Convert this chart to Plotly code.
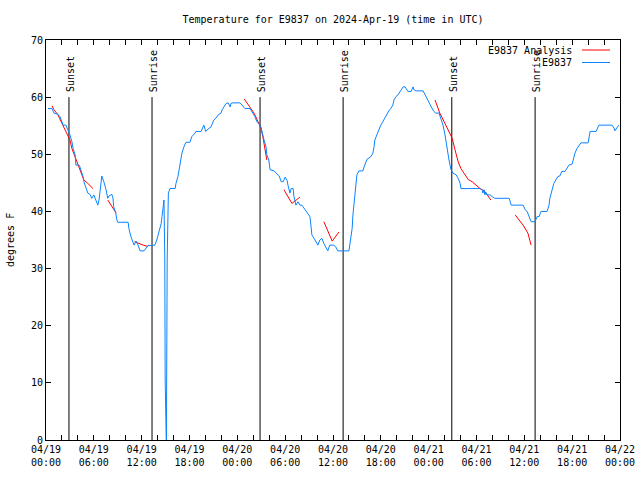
import pandas as pd
import plotly.graph_objects as go

START = "2024-04-19 00:00"
TITLE = "Temperature for E9837 on 2024-Apr-19 (time in UTC)"

# E9837 observed temperature (hours since start, degrees F)
obs_hours = [0.25, 0.75, 1.0, 1.5, 1.75, 2.0, 2.15, 2.5, 2.75, 3.0, 3.25, 3.4, 3.65, 3.75, 4.15, 4.25, 4.5, 4.65, 4.75,
             5.0, 5.25, 5.5, 5.75, 6.0, 6.25, 6.5, 6.65, 6.75, 6.9, 7.0, 7.25, 7.5, 7.75, 7.9, 8.25, 8.4, 8.5, 8.75,
             8.9, 9.0, 10.3, 10.4, 10.65, 10.9, 11.05, 11.3, 11.55, 11.8, 12.3, 12.8, 13.65, 13.9, 14.15, 14.45,
             14.55, 14.7, 14.8, 14.9, 14.95, 15.1, 15.2, 15.35, 15.55, 16.2, 16.3, 16.55, 16.7, 16.8, 17.05, 17.3,
             17.55, 18.05, 18.3, 18.7, 18.8, 19.45, 19.7, 19.8, 19.95, 20.05, 20.3, 20.7, 21.05, 21.3, 21.6, 21.95,
             22.1, 22.35, 22.6, 22.85, 23.1, 23.2, 23.45, 24.35, 24.6, 24.95, 25.6, 25.85, 26.2, 26.45, 26.7, 26.95,
             27.1, 27.35, 27.6, 27.7, 27.95, 28.1, 28.6, 28.85, 29.25, 29.5, 29.75, 30.0, 30.25, 30.35, 30.6, 30.75,
             31.0, 31.1, 31.35, 31.6, 31.85, 32.1, 32.35, 32.6, 32.85, 33.1, 33.25, 33.35, 33.75, 34.1, 34.35, 34.6,
             34.85, 35.1, 35.35, 35.6, 36.1, 36.35, 36.6, 38.0, 38.25, 38.4, 38.5, 38.65, 38.75, 39.0, 39.25, 39.75,
             39.9, 40.15, 40.25, 40.75, 41.0, 41.15, 41.25, 41.5, 41.75, 42.0, 42.25, 42.5, 42.75, 43.0, 43.3, 43.5,
             43.65, 43.9, 44.15, 44.4, 44.65, 44.8, 45.05, 45.3, 45.4, 45.8, 46.05, 46.15, 46.4, 47.3, 47.55, 47.8,
             48.05, 48.4, 48.65, 48.9, 49.3, 49.55, 49.8, 50.05, 50.2, 50.3, 50.45, 50.55, 50.8, 51.05, 51.45, 51.7,
             51.95, 52.05, 54.45, 54.7, 54.8, 54.95, 55.05, 55.2, 55.3, 55.7, 55.95, 56.3, 58.1, 58.35, 59.85, 60.1,
             60.35, 60.6, 60.85, 61.35, 61.6, 61.85, 62.1, 62.85, 63.1, 63.2, 63.45, 63.7, 63.95, 64.2, 64.45, 64.7,
             65.1, 65.35, 65.6, 66.0, 66.1, 66.35, 66.6, 66.85, 67.1, 68.0, 68.1, 68.25, 69.0, 69.35, 71.0, 71.25,
             71.35, 71.6, 71.85]
obs_values = [58.0, 58.0, 57.2, 57.0, 56.6, 55.6, 55.1, 55.1, 54.3, 53.4, 52.2, 51.0, 49.9, 48.1, 48.1, 47.8, 46.7, 46.1,
              45.2, 44.3, 43.2, 43.0, 42.3, 42.9, 42.0, 41.1, 42.0, 43.2, 45.1, 46.2, 45.2, 44.0, 42.3, 42.7, 43.0,
              42.3, 40.8, 39.7, 38.5, 38.1, 38.1, 37.0, 35.6, 34.7, 34.1, 34.8, 34.1, 33.1, 33.1, 34.0, 34.1, 35.0,
              36.2, 37.9, 39.1, 41.1, 42.0, 31.5, 10.5, -1.0, 31.5, 43.2, 44.0, 44.0, 44.9, 46.1, 47.3, 48.4, 50.2,
              51.3, 52.1, 52.1, 53.1, 53.7, 54.0, 54.0, 54.6, 55.1, 54.4, 54.0, 54.4, 54.8, 56.0, 56.3, 56.9, 57.2,
              57.8, 58.3, 58.9, 59.0, 58.3, 58.9, 59.0, 59.0, 58.6, 58.0, 58.0, 57.5, 56.6, 55.7, 55.4, 54.8, 53.7,
              52.5, 51.3, 49.9, 49.0, 47.3, 47.1, 46.8, 46.2, 45.2, 45.2, 46.0, 45.4, 44.6, 43.2, 44.0, 44.0, 42.6,
              41.1, 41.7, 41.1, 41.1, 40.6, 40.0, 39.4, 39.1, 37.3, 35.9, 35.0, 34.1, 35.0, 35.3, 34.4, 33.8, 33.1,
              34.1, 34.1, 33.8, 33.1, 33.1, 35.3, 37.0, 39.4, 41.7, 44.0, 46.4, 47.1, 47.1, 47.8, 48.7, 49.1, 49.6,
              50.2, 51.3, 52.5, 53.4, 54.3, 55.1, 55.7, 56.4, 57.0, 57.6, 58.1, 58.6, 59.5, 60.1, 60.4, 61.0, 61.4,
              61.8, 61.8, 61.3, 61.0, 61.0, 61.8, 61.3, 61.1, 61.1, 60.4, 59.5, 58.9, 58.1, 57.5, 57.2, 57.2, 56.3,
              55.1, 53.4, 51.9, 50.8, 49.3, 49.0, 47.3, 46.7, 46.4, 45.8, 44.9, 44.0, 44.0, 43.8, 43.2, 43.8, 42.9,
              43.3, 42.9, 42.9, 42.6, 42.3, 42.3, 41.1, 41.1, 40.3, 40.0, 39.1, 38.2, 38.2, 39.1, 39.1, 40.0, 40.0,
              41.1, 42.3, 43.8, 44.9, 45.5, 46.1, 46.2, 47.0, 47.0, 47.5, 48.1, 48.3, 49.0, 50.2, 51.0, 51.6, 52.0,
              52.0, 53.1, 54.0, 54.0, 55.1, 55.1, 54.6, 54.1, 54.6, 55.1]

# E9837 Analysis (None = gap between segments)
ana_hours = [0.75, 1.0, 1.5, 1.9, 2.25, 2.75, 3.0, 3.25, 3.65, 4.0, 4.25, 4.5, 4.75, 5.25, 5.9, None,
             7.75, 8.3, 8.8, None,
             11.1, 11.6, 12.2, 12.7, 12.85, None,
             24.85, 25.6, 26.1, 26.6, 26.95, 27.2, 27.45, 27.7, None,
             29.85, 30.85, 31.85, None,
             34.85, 35.9, 36.75, None,
             48.8, 49.4, 50.15, 50.95, 51.3, 51.7, 52.05, 52.55, 52.95, 53.45, 53.95, 54.45, 55.05, 55.8, None,
             58.85, 59.85, 60.45, 60.85]
ana_values = [58.5, 57.8, 56.9, 55.7, 54.6, 53.4, 52.5, 51.0, 49.6, 48.4, 47.3, 46.4, 45.5, 44.9, 44.0, None,
              42.0, 40.8, 39.7, None,
              34.7, 34.4, 34.1, 33.9, 34.1, None,
              59.7, 58.3, 57.2, 55.7, 54.6, 53.1, 51.0, 49.0, None,
              43.8, 41.4, 42.5, None,
              38.2, 34.8, 36.4, None,
              59.5, 57.2, 55.1, 52.8, 50.8, 48.7, 47.5, 46.4, 45.6, 45.2, 44.6, 44.0, 43.5, 42.0, None,
              39.4, 37.6, 36.2, 34.1]

# Sun events (hours since start)
sun_hours = [2.88, 13.3, 26.85, 37.27, 50.9, 61.35]
sun_labels = ["Sunset", "Sunrise", "Sunset", "Sunrise", "Sunset", "Sunrise"]
sun_line_top = 60

tick_hours = [0, 6, 12, 18, 24, 30, 36, 42, 48, 54, 60, 66, 72]
tick_labels = ["04/19<br>00:00", "04/19<br>06:00", "04/19<br>12:00", "04/19<br>18:00",
               "04/20<br>00:00", "04/20<br>06:00", "04/20<br>12:00", "04/20<br>18:00",
               "04/21<br>00:00", "04/21<br>06:00", "04/21<br>12:00", "04/21<br>18:00",
               "04/22<br>00:00"]

start = pd.Timestamp(START)


def to_time(hs):
    return [None if h is None else start + pd.Timedelta(hours=h) for h in hs]


FONT = "DejaVu Sans Mono"
BLUE = "#0a84ff"
fig = go.Figure()

sx, sy = [], []
for h in sun_hours:
    t = start + pd.Timedelta(hours=h)
    sx += [t, t, None]
    sy += [0, sun_line_top, None]
fig.add_trace(go.Scatter(x=sx, y=sy, mode="lines", line=dict(color="black", width=1),
                         showlegend=False, hoverinfo="skip"))

fig.add_trace(go.Scatter(x=to_time(ana_hours), y=ana_values, mode="lines", name="E9837 Analysis",
                         line=dict(color="#ff0000", width=1), connectgaps=False, showlegend=False))
fig.add_trace(go.Scatter(x=to_time(obs_hours), y=obs_values, mode="lines", name="E9837",
                         line=dict(color=BLUE, width=1), showlegend=False))

for h, lab in zip(sun_hours, sun_labels):
    fig.add_annotation(x=start + pd.Timedelta(hours=h), y=sun_line_top, text=lab, textangle=-90,
                       showarrow=False, xanchor="center", yanchor="bottom", yshift=3, xshift=1,
                       font=dict(family=FONT, size=10, color="black"))

# Legend (text right-aligned, sample line to the right)
legend_items = [("E9837 Analysis", "#ff0000"), ("E9837", BLUE)]
for i, (name, col) in enumerate(legend_items):
    yp = 1 - (10 + 12.5 * i) / 400
    fig.add_annotation(xref="paper", yref="paper", x=(574 - 46) / 574, y=yp, text=name, showarrow=False,
                       xanchor="right", yanchor="middle", font=dict(family=FONT, size=10, color="black"))
    fig.add_shape(type="line", xref="paper", yref="paper", x0=(582 - 46) / 574, x1=(610 - 46) / 574,
                  y0=yp, y1=yp, line=dict(color=col, width=1))

fig.add_annotation(xref="paper", yref="paper", x=(10 - 46) / 574, y=0.5, text="degrees F", textangle=-90,
                   showarrow=False, xanchor="center", yanchor="middle",
                   font=dict(family=FONT, size=10, color="black"))

fig.update_layout(
    width=640, height=480,
    margin=dict(l=46, r=20, t=40, b=40, autoexpand=False),
    paper_bgcolor="white", plot_bgcolor="white",
    title=dict(text=TITLE, x=333 / 640, xanchor="center", y=1 - 19 / 480, yanchor="middle", yref="container",
               automargin=False, font=dict(family=FONT, size=10, color="black")),
    font=dict(family=FONT, size=10, color="black"),
    showlegend=False,
)
fig.update_xaxes(
    range=[start, start + pd.Timedelta(hours=72)], automargin=False,
    tickvals=to_time(tick_hours), ticktext=tick_labels,
    ticks="inside", ticklen=5, tickcolor="black", showline=True, linecolor="black", linewidth=1,
    mirror="allticks", showgrid=False, zeroline=False,
    minor=dict(ticks="inside", ticklen=5, dtick=2 * 3600 * 1000, tick0=start, tickcolor="black", showgrid=False),
    tickfont=dict(family=FONT, size=10),
)
fig.update_yaxes(
    range=[0, 70], dtick=10, tick0=0, automargin=False,
    ticks="inside", ticklen=5, tickcolor="black", showline=True, linecolor="black", linewidth=1,
    mirror="allticks", showgrid=False, zeroline=False,
    tickfont=dict(family=FONT, size=10),
)

fig.write_html("out.html", config={"displayModeBar": False},
               post_script="document.body.style.margin='0';")
